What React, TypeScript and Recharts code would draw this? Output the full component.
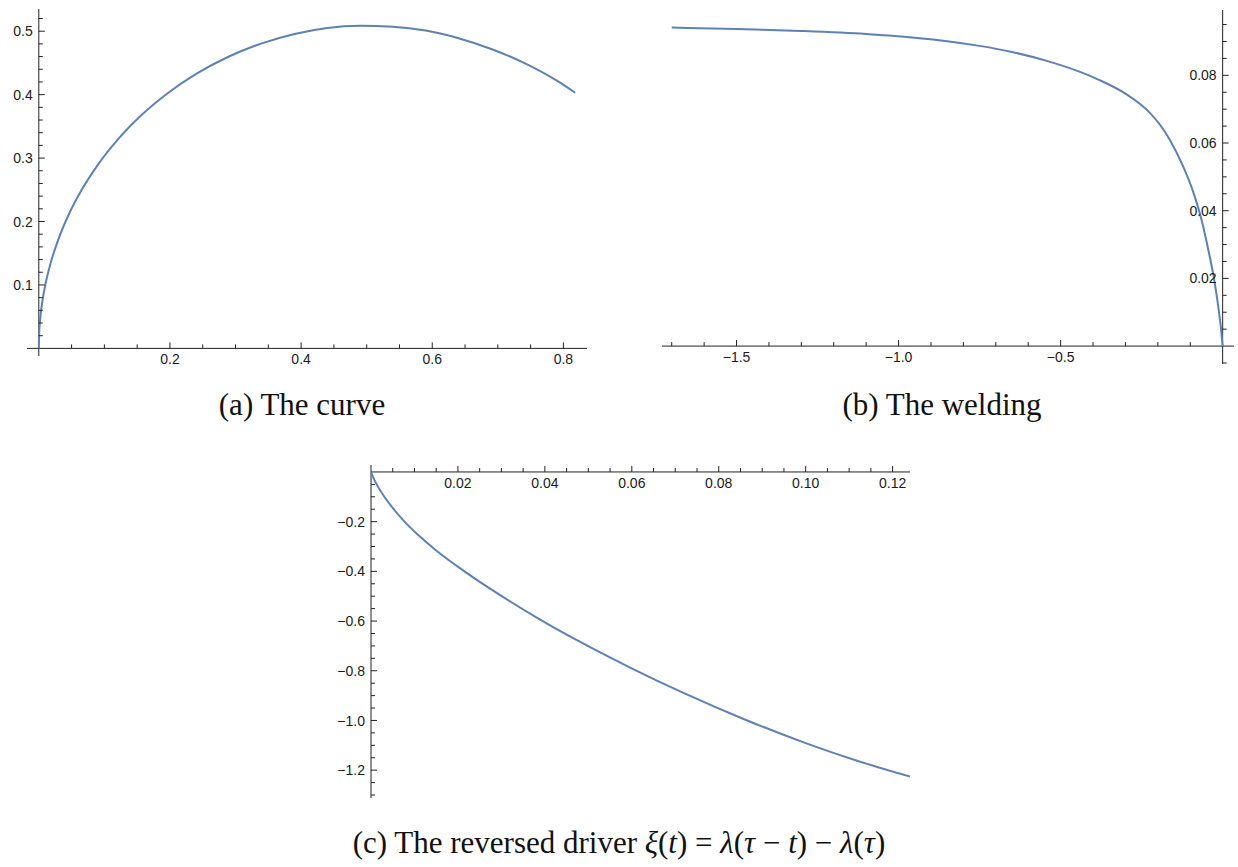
import React from 'react';
import { LineChart, Line, XAxis, YAxis, ReferenceLine } from 'recharts';

// (a) the curve
const curveX = [0, 0.0005, 0.002, 0.005, 0.01, 0.018, 0.03, 0.045, 0.065, 0.09, 0.12, 0.155, 0.195, 0.24, 0.29, 0.34, 0.39, 0.44, 0.49, 0.54, 0.59, 0.64, 0.69, 0.74, 0.79, 0.818];
const curveY = [0, 0.0226, 0.0451, 0.0712, 0.1005, 0.1343, 0.1723, 0.2095, 0.2491, 0.2893, 0.3286, 0.3662, 0.4011, 0.4327, 0.4601, 0.4808, 0.4957, 0.5052, 0.5085, 0.507, 0.501, 0.489, 0.472, 0.45, 0.422, 0.403];

// (b) the welding
const weldX = [-1.7, -1.5, -1.3, -1.1, -0.95, -0.85, -0.75, -0.65, -0.54, -0.44, -0.38, -0.3, -0.26, -0.2244, -0.1627, -0.1216, -0.0907, -0.0648, -0.0442, -0.0267, -0.0134, -0.005, 0];
const weldY = [0.0941, 0.0937, 0.0931, 0.0922, 0.0911, 0.0901, 0.0887, 0.0869, 0.0842, 0.081, 0.0786, 0.0746, 0.0719, 0.0689, 0.0609, 0.053, 0.0455, 0.0372, 0.0284, 0.0199, 0.0116, 0.005, 0];

// (c) the reversed driver
const driverT = [0, 0.0005, 0.0015, 0.003, 0.005, 0.0077, 0.011, 0.015, 0.022, 0.03, 0.039, 0.049, 0.0596, 0.072, 0.0864, 0.1, 0.112, 0.124];
const driverXi = [0, -0.022, -0.056, -0.098, -0.145, -0.2, -0.256, -0.316, -0.406, -0.499, -0.595, -0.692, -0.787, -0.89, -0.999, -1.091, -1.163, -1.226];

// tick labels
const curveXMajor = [0.2, 0.4, 0.6, 0.8];
const curveYMajor = [0.1, 0.2, 0.3, 0.4, 0.5];
const weldXMajor = [-1.5, -1.0, -0.5];
const weldYMajor = [0.02, 0.04, 0.06, 0.08];
const driverTMajor = [0.02, 0.04, 0.06, 0.08, 0.1, 0.12];
const driverXiMajor = [-0.2, -0.4, -0.6, -0.8, -1.0, -1.2];

const LINE_COLOR = '#5E81B5';
const AXIS_COLOR = '#222';
const LABEL_FONT = '"Liberation Sans", Arial, sans-serif';
const CAPTION_FONT = '"Liberation Serif", "Times New Roman", serif';
const AXIS_BOX = 1; // recharts skips an axis whose box is 0 px

const toPoints = (xs: number[], ys: number[]) => xs.map((x, i) => ({ x, y: ys[i] }));

// minor tick positions between the labelled ones
const steps = (from: number, to: number, step: number) => {
  const out: number[] = [];
  for (let v = from; v <= to + step / 2; v += step) out.push(Math.round(v * 1e6) / 1e6);
  return out;
};

const isMajor = (v: number, majors: number[]) => majors.some((m) => Math.abs(m - v) < 1e-9);

const minus = (s: string) => s.replace('-', '\u2212');

type Margin = { top: number; right: number; bottom: number; left: number };

interface PanelProps {
  left: number;
  top: number;
  width: number;
  height: number;
  margin: Margin;
  xDomain: [number, number];
  yDomain: [number, number];
  data: { x: number; y: number }[];
  xTicks: number[];
  yTicks: number[];
  xMajor: number[];
  yMajor: number[];
  xFmt: (v: number) => string;
  yFmt: (v: number) => string;
  xOrient: 'top' | 'bottom';
  yOrient: 'left' | 'right';
}

const Panel: React.FC<PanelProps> = ({
  left, top, width, height, margin, xDomain, yDomain, data,
  xTicks, yTicks, xMajor, yMajor, xFmt, yFmt, xOrient, yOrient,
}) => {
  const plotLeft = margin.left + (yOrient === 'left' ? AXIS_BOX : 0);
  const plotTop = margin.top + (xOrient === 'top' ? AXIS_BOX : 0);
  const plotW = width - margin.left - margin.right - AXIS_BOX;
  const plotH = height - margin.top - margin.bottom - AXIS_BOX;
  // pixel position of the data origin inside this chart (axes cross there)
  const zeroX = plotLeft + (plotW * (0 - xDomain[0])) / (xDomain[1] - xDomain[0]);
  const zeroY = plotTop + (plotH * yDomain[1]) / (yDomain[1] - yDomain[0]);

  const renderXTick = (p: any) => {
    const v = p.payload.value;
    const major = isMajor(v, xMajor);
    return (
      <g>
        <line x1={p.x} x2={p.x} y1={zeroY} y2={zeroY - (major ? 6 : 4)} stroke={AXIS_COLOR} strokeWidth={1} />
        {major && (
          <text x={p.x} y={zeroY + 16} textAnchor="middle" fontSize={14} fontFamily={LABEL_FONT} fill="#1a1a1a">
            {xFmt(v)}
          </text>
        )}
      </g>
    );
  };

  const renderYTick = (p: any) => {
    const v = p.payload.value;
    const major = isMajor(v, yMajor);
    return (
      <g>
        <line x1={zeroX} x2={zeroX + (major ? 6 : 4)} y1={p.y} y2={p.y} stroke={AXIS_COLOR} strokeWidth={1} />
        {major && (
          <text x={zeroX - 6} y={p.y} dy="0.36em" textAnchor="end" fontSize={14} fontFamily={LABEL_FONT} fill="#1a1a1a">
            {yFmt(v)}
          </text>
        )}
      </g>
    );
  };

  return (
    <div style={{ position: 'absolute', left, top }}>
      <LineChart width={width} height={height} data={data} margin={margin}>
        <XAxis
          dataKey="x"
          type="number"
          domain={xDomain}
          allowDataOverflow
          orientation={xOrient}
          height={AXIS_BOX}
          ticks={xTicks}
          interval={0}
          axisLine={false}
          tickLine={false}
          tickSize={0}
          tickMargin={0}
          tick={renderXTick}
        />
        <YAxis
          type="number"
          domain={yDomain}
          allowDataOverflow
          orientation={yOrient}
          width={AXIS_BOX}
          ticks={yTicks}
          interval={0}
          axisLine={false}
          tickLine={false}
          tickSize={0}
          tickMargin={0}
          tick={renderYTick}
        />
        <ReferenceLine x={0} stroke={AXIS_COLOR} strokeWidth={1} />
        <ReferenceLine y={0} stroke={AXIS_COLOR} strokeWidth={1} />
        <Line
          type="monotone"
          dataKey="y"
          stroke={LINE_COLOR}
          strokeWidth={2}
          dot={false}
          activeDot={false}
          isAnimationActive={false}
        />
      </LineChart>
    </div>
  );
};

const it = (s: string) => <tspan fontStyle="italic">{s}</tspan>;

export default function App() {
  return (
    <div style={{ position: 'absolute', left: 0, top: 0, width: 1238, height: 867, background: '#fff', overflow: 'hidden' }}>
      <Panel
        left={0}
        top={0}
        width={610}
        height={380}
        margin={{ top: 9, right: 23, bottom: 23, left: 26 }}
        xDomain={[-0.018, 0.836]}
        yDomain={[-0.012, 0.535]}
        data={toPoints(curveX, curveY)}
        xTicks={steps(0.05, 0.8, 0.05)}
        yTicks={steps(0.02, 0.52, 0.02)}
        xMajor={curveXMajor}
        yMajor={curveYMajor}
        xFmt={(v) => v.toFixed(1)}
        yFmt={(v) => v.toFixed(1)}
        xOrient="bottom"
        yOrient="left"
      />
      <Panel
        left={630}
        top={0}
        width={608}
        height={380}
        margin={{ top: 10, right: 3, bottom: 15, left: 32 }}
        xDomain={[-1.73, 0.035]}
        yDomain={[-0.0053, 0.0993]}
        data={toPoints(weldX, weldY)}
        xTicks={steps(-1.7, -0.1, 0.1)}
        yTicks={steps(-0.005, 0.095, 0.005).filter((v) => Math.abs(v) > 1e-9)}
        xMajor={weldXMajor}
        yMajor={weldYMajor}
        xFmt={(v) => minus(v.toFixed(1))}
        yFmt={(v) => v.toFixed(2)}
        xOrient="bottom"
        yOrient="right"
      />
      <Panel
        left={320}
        top={440}
        width={600}
        height={380}
        margin={{ top: 24, right: 10, bottom: 22, left: 50 }}
        xDomain={[0, 0.124]}
        yDomain={[-1.312, 0.028]}
        data={toPoints(driverT, driverXi)}
        xTicks={steps(0.005, 0.12, 0.005)}
        yTicks={steps(-1.3, -0.05, 0.05)}
        xMajor={driverTMajor}
        yMajor={driverXiMajor}
        xFmt={(v) => v.toFixed(2)}
        yFmt={(v) => minus(v.toFixed(1))}
        xOrient="top"
        yOrient="left"
      />
      <svg width={1238} height={867} style={{ position: 'absolute', left: 0, top: 0, pointerEvents: 'none' }}>
        <g fontFamily={CAPTION_FONT} fontSize={31} fill="#111" textAnchor="middle">
          <text x={302} y={415}>(a) The curve</text>
          <text x={942} y={415}>(b) The welding</text>
          <text x={619} y={853}>
            (c) The reversed driver {it('ξ')}({it('t')}) = {it('λ')}({it('τ')} − {it('t')}) − {it('λ')}({it('τ')})
          </text>
        </g>
      </svg>
    </div>
  );
}
